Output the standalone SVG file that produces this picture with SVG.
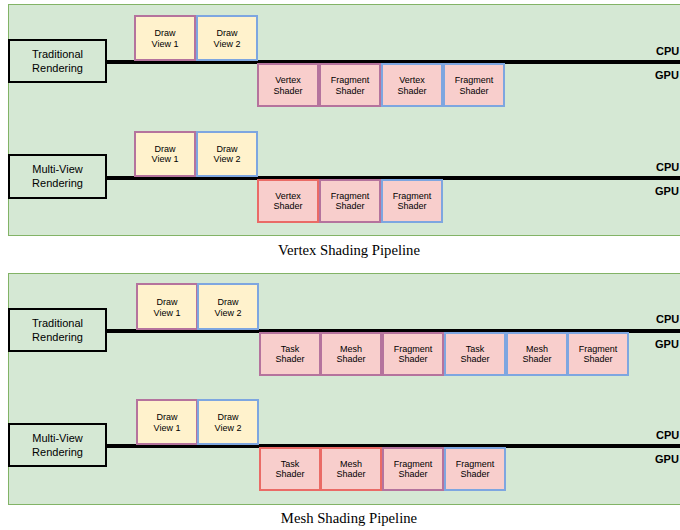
<svg xmlns="http://www.w3.org/2000/svg" width="680" height="530" viewBox="0 0 680 530">
<style>
.panel{fill:#d5e8d4;stroke:#82b366;stroke-width:1}
.rend{fill:#d5e8d4;stroke:#000;stroke-width:2}
.draw{fill:#fff2cc;stroke-width:2}
.sh{fill:#f8cecc;stroke-width:2}
.p{stroke:#b5739d}
.b{stroke:#7ea6e0}
.r{stroke:#ea6b66}
.bar{stroke:#000;stroke-width:4;fill:none}
text{font-family:"Liberation Sans",Arial,sans-serif;fill:#000;text-anchor:middle}
.t9{font-size:9px}
.t11{font-size:11px}
.lab{font-size:11px;font-weight:bold;text-anchor:start}
.cap{font-family:"Liberation Serif","Times New Roman",serif;font-size:14.7px}
</style>
<rect class="panel" x="8.5" y="4.5" width="680" height="231"/>
<rect class="panel" x="8.5" y="273.5" width="680" height="231"/>
<g id="connectors">
<line class="bar" x1="107" y1="62" x2="680" y2="62"/>
<line class="bar" x1="107" y1="178" x2="680" y2="178"/>
<line class="bar" x1="107" y1="331" x2="680" y2="331"/>
<line class="bar" x1="107" y1="446" x2="680" y2="446"/>
</g>
<g id="tr1"><rect class="rend" x="9" y="40" width="97" height="42"/><text class="t11" x="57.5" y="58">Traditional</text><text class="t11" x="57.5" y="72">Rendering</text></g>
<g id="tr1-d1"><rect class="draw p" x="135" y="16" width="60" height="44"/><text class="t9" x="165" y="36">Draw</text><text class="t9" x="165" y="46.5">View 1</text></g>
<g id="tr1-d2"><rect class="draw b" x="197" y="16" width="60" height="44"/><text class="t9" x="227" y="36">Draw</text><text class="t9" x="227" y="46.5">View 2</text></g>
<g id="tr1-s1"><rect class="sh p" x="258" y="64" width="60" height="42"/><text class="t9" x="288" y="83">Vertex</text><text class="t9" x="288" y="93.5">Shader</text></g>
<g id="tr1-s2"><rect class="sh p" x="320" y="64" width="60" height="42"/><text class="t9" x="350" y="83">Fragment</text><text class="t9" x="350" y="93.5">Shader</text></g>
<g id="tr1-s3"><rect class="sh b" x="382" y="64" width="60" height="42"/><text class="t9" x="412" y="83">Vertex</text><text class="t9" x="412" y="93.5">Shader</text></g>
<g id="tr1-s4"><rect class="sh b" x="444" y="64" width="60" height="42"/><text class="t9" x="474" y="83">Fragment</text><text class="t9" x="474" y="93.5">Shader</text></g>
<text class="lab" x="656" y="55">CPU</text><text class="lab" x="655" y="79">GPU</text>

<g id="mv1"><rect class="rend" x="9" y="155" width="97" height="43"/><text class="t11" x="57.5" y="173">Multi-View</text><text class="t11" x="57.5" y="187">Rendering</text></g>
<g id="mv1-d1"><rect class="draw p" x="135" y="132" width="60" height="44"/><text class="t9" x="165" y="151.5">Draw</text><text class="t9" x="165" y="162">View 1</text></g>
<g id="mv1-d2"><rect class="draw b" x="197" y="132" width="60" height="44"/><text class="t9" x="227" y="151.5">Draw</text><text class="t9" x="227" y="162">View 2</text></g>
<g id="mv1-s1"><rect class="sh r" x="258" y="180" width="60" height="42"/><text class="t9" x="288" y="198.5">Vertex</text><text class="t9" x="288" y="209">Shader</text></g>
<g id="mv1-s2"><rect class="sh p" x="320" y="180" width="60" height="42"/><text class="t9" x="350" y="198.5">Fragment</text><text class="t9" x="350" y="209">Shader</text></g>
<g id="mv1-s3"><rect class="sh b" x="382" y="180" width="60" height="42"/><text class="t9" x="412" y="198.5">Fragment</text><text class="t9" x="412" y="209">Shader</text></g>
<text class="lab" x="656" y="171">CPU</text><text class="lab" x="655" y="195">GPU</text>
<text class="cap" x="349" y="255">Vertex Shading Pipeline</text>

<g id="tr2"><rect class="rend" x="9" y="309" width="97" height="42"/><text class="t11" x="57.5" y="327">Traditional</text><text class="t11" x="57.5" y="341">Rendering</text></g>
<g id="tr2-d1"><rect class="draw p" x="137" y="284" width="60" height="45"/><text class="t9" x="167" y="305">Draw</text><text class="t9" x="167" y="315.5">View 1</text></g>
<g id="tr2-d2"><rect class="draw b" x="198" y="284" width="60" height="45"/><text class="t9" x="228" y="305">Draw</text><text class="t9" x="228" y="315.5">View 2</text></g>
<g id="tr2-s1"><rect class="sh p" x="260" y="333" width="60" height="42"/><text class="t9" x="290" y="351.5">Task</text><text class="t9" x="290" y="362">Shader</text></g>
<g id="tr2-s2"><rect class="sh p" x="321" y="333" width="60" height="42"/><text class="t9" x="351" y="351.5">Mesh</text><text class="t9" x="351" y="362">Shader</text></g>
<g id="tr2-s3"><rect class="sh p" x="383" y="333" width="60" height="42"/><text class="t9" x="413" y="351.5">Fragment</text><text class="t9" x="413" y="362">Shader</text></g>
<g id="tr2-s4"><rect class="sh b" x="445" y="333" width="60" height="42"/><text class="t9" x="475" y="351.5">Task</text><text class="t9" x="475" y="362">Shader</text></g>
<g id="tr2-s5"><rect class="sh b" x="507" y="333" width="60" height="42"/><text class="t9" x="537" y="351.5">Mesh</text><text class="t9" x="537" y="362">Shader</text></g>
<g id="tr2-s6"><rect class="sh b" x="568" y="333" width="60" height="42"/><text class="t9" x="598" y="351.5">Fragment</text><text class="t9" x="598" y="362">Shader</text></g>
<text class="lab" x="656" y="323">CPU</text><text class="lab" x="655" y="348">GPU</text>

<g id="mv2"><rect class="rend" x="9" y="424" width="97" height="42"/><text class="t11" x="57.5" y="442">Multi-View</text><text class="t11" x="57.5" y="456">Rendering</text></g>
<g id="mv2-d1"><rect class="draw p" x="137" y="400" width="60" height="44"/><text class="t9" x="167" y="420">Draw</text><text class="t9" x="167" y="430.5">View 1</text></g>
<g id="mv2-d2"><rect class="draw b" x="198" y="400" width="60" height="44"/><text class="t9" x="228" y="420">Draw</text><text class="t9" x="228" y="430.5">View 2</text></g>
<g id="mv2-s1"><rect class="sh r" x="260" y="448" width="60" height="42"/><text class="t9" x="290" y="466.5">Task</text><text class="t9" x="290" y="477">Shader</text></g>
<g id="mv2-s2"><rect class="sh r" x="321" y="448" width="60" height="42"/><text class="t9" x="351" y="466.5">Mesh</text><text class="t9" x="351" y="477">Shader</text></g>
<g id="mv2-s3"><rect class="sh p" x="383" y="448" width="60" height="42"/><text class="t9" x="413" y="466.5">Fragment</text><text class="t9" x="413" y="477">Shader</text></g>
<g id="mv2-s4"><rect class="sh b" x="445" y="448" width="60" height="42"/><text class="t9" x="475" y="466.5">Fragment</text><text class="t9" x="475" y="477">Shader</text></g>
<text class="lab" x="656" y="439">CPU</text><text class="lab" x="655" y="463">GPU</text>
<text class="cap" x="349" y="523">Mesh Shading Pipeline</text>
</svg>
